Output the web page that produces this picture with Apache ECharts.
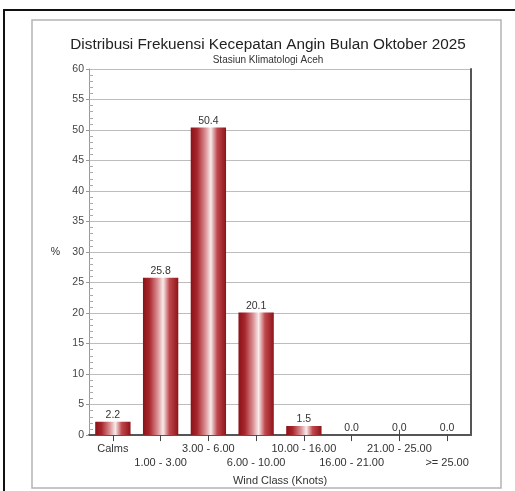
<!DOCTYPE html>
<html>
<head>
<meta charset="utf-8">
<script src="https://cdn.jsdelivr.net/npm/echarts@6/dist/echarts.min.js"></script>
<style>
  html, body { margin: 0; padding: 0; background: #fff; }
  #chart { width: 515px; height: 491px; }
</style>
</head>
<body>
<div id="chart"></div>
<script>
// Wind speed classes (knots) and their share of observations (%)
const windClasses = ['Calms', '1.00 - 3.00', '3.00 - 6.00', '6.00 - 10.00', '10.00 - 16.00', '16.00 - 21.00', '21.00 - 25.00', '>= 25.00'];
const frequencyPct = [2.2, 25.8, 50.4, 20.1, 1.5, 0.0, 0.0, 0.0];

const titleText = 'Distribusi Frekuensi Kecepatan Angin Bulan Oktober 2025';
const subtitleText = 'Stasiun Klimatologi Aceh';
const xAxisName = 'Wind Class (Knots)';
const yAxisName = '%';

const FONT = '"Liberation Sans", Arial, sans-serif';

const chart = echarts.init(document.getElementById('chart'), null, { renderer: 'canvas' });

// Cylinder-like shading across each bar
const barFill = new echarts.graphic.LinearGradient(0, 0, 1, 0, [
  { offset: 0, color: '#8a1219' },
  { offset: 0.18, color: '#a8262c' },
  { offset: 0.42, color: '#dc9396' },
  { offset: 0.57, color: '#f7ecec' },
  { offset: 0.75, color: '#c0474c' },
  { offset: 1, color: '#8e141a' }
]);

chart.setOption({
  animation: false,
  backgroundColor: '#fff',
  title: [
    {
      text: titleText,
      left: 263, top: 32, textAlign: 'center',
      textStyle: { fontFamily: FONT, fontSize: 15.3, fontWeight: 'normal', color: '#222' }
    },
    {
      text: subtitleText,
      left: 263, top: 50, textAlign: 'center',
      textStyle: { fontFamily: FONT, fontSize: 10, fontWeight: 'normal', color: '#333' }
    }
  ],
  graphic: [
    {
      type: 'rect', silent: true, z: -1,
      shape: { x: 4, y: 10, width: 530, height: 500 },
      style: { fill: 'none', stroke: '#111', lineWidth: 2 }
    },
    {
      type: 'rect', silent: true, z: -1,
      shape: { x: 32, y: 20, width: 469, height: 468 },
      style: { fill: 'none', stroke: '#b4b4b4', lineWidth: 1.5 }
    }
  ],
  grid: { left: 89, right: 44, top: 69, bottom: 54, containLabel: false },
  xAxis: [
    {
      type: 'category',
      data: windClasses,
      name: xAxisName,
      nameLocation: 'middle',
      nameGap: 31,
      nameTextStyle: { fontFamily: FONT, fontSize: 11, color: '#333' },
      axisLine: { show: true, lineStyle: { color: '#555', width: 2 } },
      axisTick: { show: true, alignWithLabel: true, length: 6, lineStyle: { color: '#444' } },
      axisLabel: {
        interval: 0,
        margin: 7,
        fontFamily: FONT, fontSize: 11, color: '#333', lineHeight: 14,
        formatter: (v, i) => (i % 2 === 1 ? '\n' + v : v)
      },
      splitLine: { show: false }
    },
    {
      // inner half of the category ticks
      type: 'category',
      data: windClasses,
      position: 'bottom',
      axisLine: { show: false },
      axisTick: { show: true, inside: true, alignWithLabel: true, length: 4, lineStyle: { color: '#444' } },
      axisLabel: { show: false },
      splitLine: { show: false }
    }
  ],
  yAxis: [
    {
      type: 'value',
      min: 0, max: 60, interval: 5,
      position: 'left',
      name: yAxisName,
      nameLocation: 'middle',
      nameGap: 29,
      nameRotate: 0,
      nameTextStyle: { fontFamily: FONT, fontSize: 10.5, color: '#333' },
      axisLine: { show: true, lineStyle: { color: '#999', width: 1 } },
      axisTick: { show: true, length: 3, lineStyle: { color: '#999' } },
      axisLabel: { fontFamily: FONT, fontSize: 10.5, color: '#444', margin: 5 },
      splitLine: { show: true, lineStyle: { color: '#bdbdbd', width: 1.2 } }
    },
    {
      // minor ticks on the inner side of the value axis
      type: 'value',
      min: 0, max: 60, interval: 5,
      position: 'left',
      axisLine: { show: false },
      axisTick: { show: false, inside: true },
      minorTick: { show: true, splitNumber: 5, length: 4, lineStyle: { color: '#aaa' } },
      axisLabel: { show: false },
      splitLine: { show: false }
    },
    {
      // dark right edge of the plot frame
      type: 'value',
      min: 0, max: 60, interval: 5,
      position: 'right',
      axisLine: { show: true, lineStyle: { color: '#555', width: 2 } },
      axisTick: { show: false },
      axisLabel: { show: false },
      splitLine: { show: false }
    }
  ],
  series: [
    {
      type: 'bar',
      data: frequencyPct,
      xAxisIndex: 0,
      yAxisIndex: 0,
      barCategoryGap: '26%',
      itemStyle: { color: barFill },
      label: {
        show: true,
        position: 'top',
        distance: 1,
        fontFamily: FONT, fontSize: 10.5, color: '#333',
        formatter: p => p.value.toFixed(1)
      }
    }
  ]
});
</script>
</body>
</html>
